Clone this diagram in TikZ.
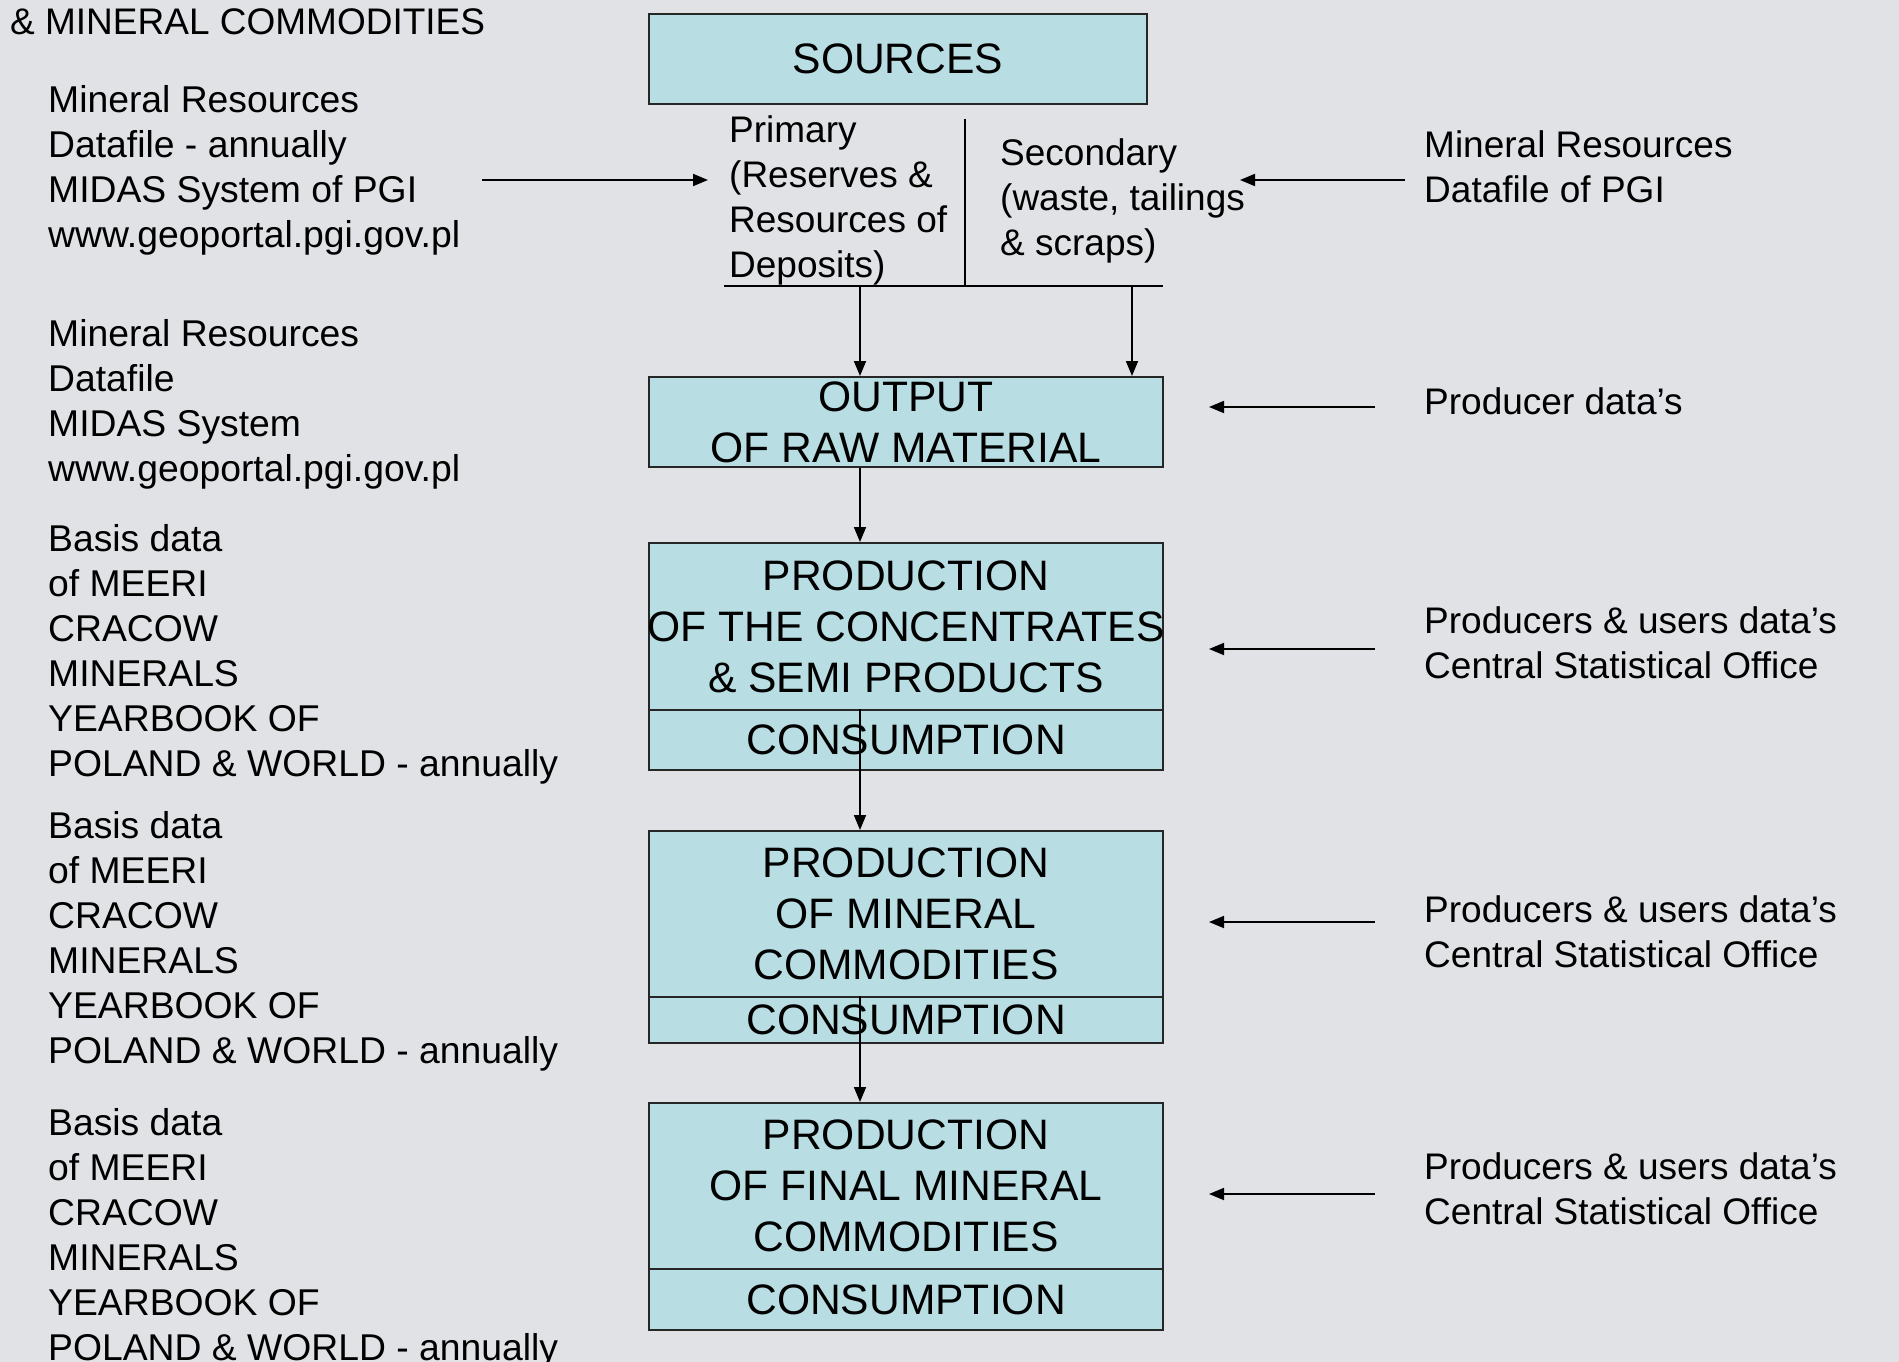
\documentclass[tikz,border=0pt]{standalone}
\usepackage{fontspec}
\setmainfont{Liberation Sans}
\usetikzlibrary{arrows.meta}
\definecolor{boxfill}{RGB}{184,222,227}
\definecolor{bgmarble}{RGB}{224,226,229}
\begin{document}
\begin{tikzpicture}[x=1pt,y=-1pt,
  box/.style={draw=black!85, line width=2pt, fill=boxfill, inner sep=0pt, align=center, font=\fontsize{42.6}{51}\selectfont},
  side/.style={anchor=north west, inner sep=0pt, align=left, font=\fontsize{37.3}{45}\selectfont},
  rside/.style={anchor=north west, inner sep=0pt, align=left, font=\fontsize{37}{45}\selectfont},
  arr/.style={line width=1.8pt, -{Triangle[length=15pt,width=12pt]}},
  ln/.style={line width=1.8pt}]
\fill[bgmarble] (0,0) rectangle (1899,1362);
\useasboundingbox (0,0) rectangle (1899,1362);

% central boxes
\node[box, minimum width=498pt, minimum height=90pt] (sources) at (898,59) {SOURCES};
\node[box, minimum width=514pt, minimum height=90pt] (output) at (906,422) {OUTPUT\\OF RAW MATERIAL};
\node[box, minimum width=514pt, minimum height=167pt] (prodA) at (906,626.5) {PRODUCTION\\\makebox[480pt][c]{OF THE CONCENTRATES}\\\& SEMI PRODUCTS};
\node[box, minimum width=514pt, minimum height=60pt] (consA) at (906,740) {CONSUMPTION};
\node[box, minimum width=514pt, minimum height=166pt] (prodB) at (906,914) {PRODUCTION\\OF MINERAL\\COMMODITIES};
\node[box, minimum width=514pt, minimum height=46pt] (consB) at (906,1020) {CONSUMPTION};
\node[box, minimum width=514pt, minimum height=166pt] (prodC) at (906,1186) {PRODUCTION\\OF FINAL MINERAL\\COMMODITIES};
\node[box, minimum width=514pt, minimum height=61pt] (consC) at (906,1299.5) {CONSUMPTION};

% primary / secondary
\node[rside] (prim) at (729,115) {Primary\\(Reserves \&\\Resources of\\Deposits)};
\node[rside] (sec) at (1000,138) {Secondary\\(waste, tailings\\\& scraps)};

% left texts
\node[rside] (topline) at (10,8.5) {\& MINERAL COMMODITIES};
\node[side] (lA) at (48,85.6) {Mineral Resources\\Datafile - annually\\MIDAS System of PGI\\www.geoportal.pgi.gov.pl};
\node[side] (lB) at (48,319) {Mineral Resources\\Datafile\\MIDAS System\\www.geoportal.pgi.gov.pl};
\node[side] (lC) at (48,524) {Basis data\\of MEERI\\CRACOW\\MINERALS\\YEARBOOK OF\\POLAND \& WORLD - annually};
\node[side] (lD) at (48,811) {Basis data\\of MEERI\\CRACOW\\MINERALS\\YEARBOOK OF\\POLAND \& WORLD - annually};
\node[side] (lE) at (48,1108) {Basis data\\of MEERI\\CRACOW\\MINERALS\\YEARBOOK OF\\POLAND \& WORLD - annually};

% right texts
\node[rside] (rA) at (1424,130.8) {Mineral Resources\\Datafile of PGI};
\node[rside] (rB) at (1424,387.5) {Producer data’s};
\node[rside] (rC) at (1424,606.8) {Producers \& users data’s\\Central Statistical Office};
\node[rside] (rD) at (1424,895) {Producers \& users data’s\\Central Statistical Office};
\node[rside] (rE) at (1424,1152) {Producers \& users data’s\\Central Statistical Office};

% split lines
\coordinate (hlA) at (724,286);
\coordinate (hlB) at (1163,286);
\coordinate (dv) at (965,119);
\coordinate (tA) at (860,286);
\coordinate (tB) at (1132,286);
\draw[ln] (hlA) -- (hlB);
\draw[ln] (dv) -- (dv |- hlA);

% down arrows
\draw[arr] (tA) -- (tA |- output.north);
\draw[arr] (tB) -- (tB |- output.north);
\draw[arr] (output.south -| tA) -- (prodA.north -| tA);
\draw[arr] (consA.north -| tA) -- (prodB.north -| tA);
\draw[arr] (consB.north -| tA) -- (prodC.north -| tA);

% side arrows
\coordinate (aLs) at (482,180);
\coordinate (aLe) at (708,180);
\draw[arr] (aLs) -- (aLe);
\coordinate (aRs) at (1405,180);
\coordinate (aRe) at (1240,180);
\draw[arr] (aRs) -- (aRe);
\coordinate (bs) at (1375,407);
\coordinate (be) at (1209,407);
\draw[arr] (bs) -- (be);
\coordinate (cs) at (1375,649);
\coordinate (ce) at (1209,649);
\draw[arr] (cs) -- (ce);
\coordinate (ds) at (1375,922);
\coordinate (de) at (1209,922);
\draw[arr] (ds) -- (de);
\coordinate (es) at (1375,1194);
\coordinate (ee) at (1209,1194);
\draw[arr] (es) -- (ee);
\end{tikzpicture}
\end{document}
